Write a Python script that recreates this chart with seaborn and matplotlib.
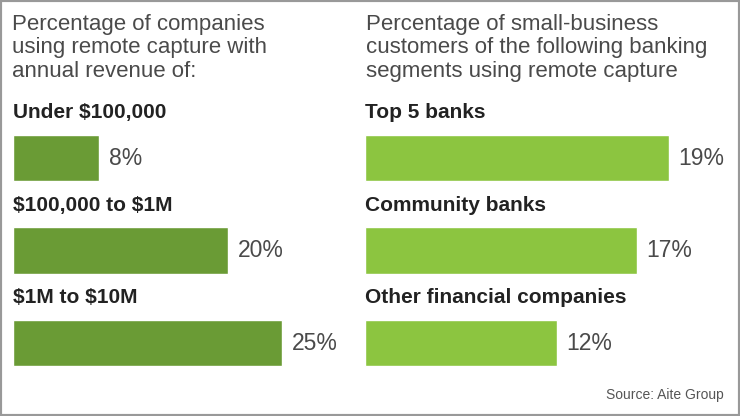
import seaborn as sns
import pandas as pd
import matplotlib.pyplot as plt
from matplotlib.patches import Rectangle

# data
revenue_labels = ['Under $100,000', '$100,000 to $1M', '$1M to $10M']
revenue_pct = [8, 20, 25]
bank_labels = ['Top 5 banks', 'Community banks', 'Other financial companies']
bank_pct = [19, 17, 12]

left_title = 'Percentage of companies\nusing remote capture with\nannual revenue of:'
right_title = 'Percentage of small-business\ncustomers of the following banking\nsegments using remote capture'
source = 'Source: Aite Group'

left_color = '#6a9b35'
right_color = '#8cc540'
text_gray = '#4a4a4a'

W, H = 740, 416
sns.set_style('white')
plt.rcParams['font.family'] = ['Liberation Sans', 'DejaVu Sans']
fig = plt.figure(figsize=(W / 100, H / 100), dpi=100)


def panel(x0_px, width_px, px_per_pct, labels, values, color, title, title_x_px):
    ax = fig.add_axes([x0_px / W, (H - 389.25) / H, width_px / W, 277.5 / H])
    df = pd.DataFrame({'label': labels, 'pct': values})
    sns.barplot(data=df, x='pct', y='label', orient='h', color=color,
                width=0.5, saturation=1, ax=ax)
    ax.set_xlim(0, width_px / px_per_pct)
    ax.set_ylim(2.5, -0.5)
    ax.axis('off')
    for i, (lab, v) in enumerate(zip(labels, values)):
        ax.text(0, i - 0.49, lab, fontsize=15, fontweight='bold',
                color='#222222', va='center', ha='left', clip_on=False,
                parse_math=False)
        ax.annotate(f'{v}%', xy=(v, i), xytext=(7, 0), textcoords='offset points',
                    fontsize=16.5, color=text_gray, va='center', ha='left')
    fig.text(title_x_px / W, 1 - 14 / H, title, fontsize=16, color=text_gray,
             va='top', ha='left', linespacing=1.15)
    return ax


panel(13, 340, 10.75, revenue_labels, revenue_pct, left_color, left_title, 12)
panel(365, 360, 16.0, bank_labels, bank_pct, right_color, right_title, 366)

fig.text(724 / W, 1 - 395 / H, source, fontsize=10, color='#555555',
         va='center', ha='right')

fig.patches.append(Rectangle((0, 0), 1, 1, transform=fig.transFigure, fill=False,
                             edgecolor='#999999', linewidth=3))

fig.savefig('out.png', dpi=100)
